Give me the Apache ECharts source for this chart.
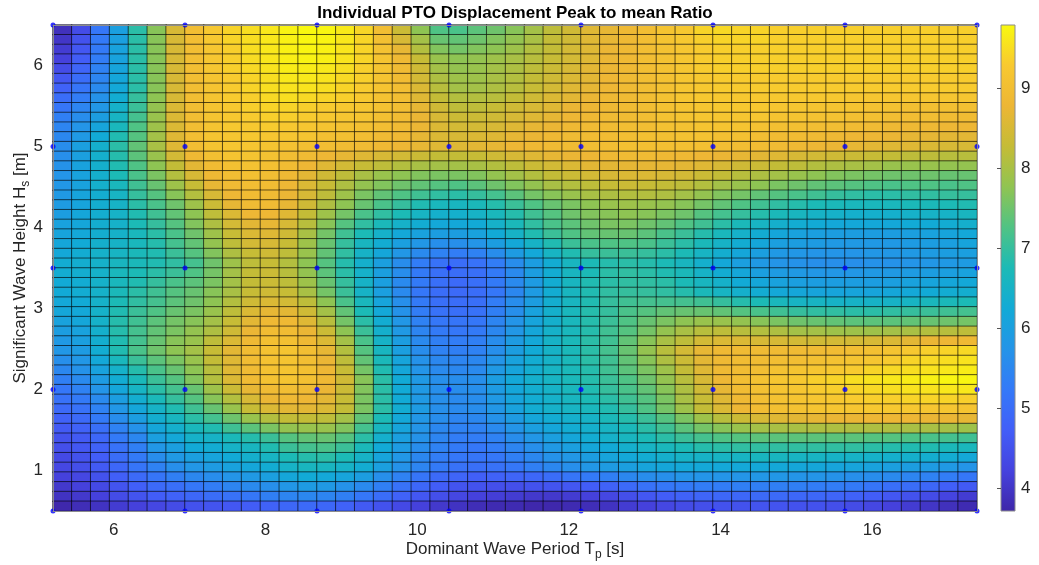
<!DOCTYPE html>
<html>
<head>
<meta charset="utf-8">
<title>Individual PTO Displacement Peak to mean Ratio</title>
<script src="https://cdn.jsdelivr.net/npm/echarts@6/dist/echarts.min.js"></script>
<style>
html,body{margin:0;padding:0;background:#fff;}
#chart{width:1039px;height:565px;}
</style>
</head>
<body>
<div id="chart"></div>
<script>
// sea states that were simulated (blue dots)
var tpSamples = [5.2, 6.94, 8.68, 10.42, 12.16, 13.9, 15.64, 17.38];
var hsSamples = [0.5, 2, 3.5, 5, 6.5];
var tpTicks = [6, 8, 10, 12, 14, 16];
var hsTicks = [1, 2, 3, 4, 5, 6];
var cbTicks = [4, 5, 6, 7, 8, 9];
var cLim = [3.71, 9.79];
// parula, evenly spaced over cLim
var parula = ['#3E26A8','#4542DE','#425EF8','#3479F8','#2494E8','#12AAD6','#1CBAB6',
              '#50C384','#90C452','#C5BC36','#EDB635','#F8C930','#F9FA0E'];

// peak to mean ratio per cell, top row (Hs = 6.5) first, Tp from 5.2 to 17.38
var ratioRows = [
[3.9,4.4,5.2,6.0,6.9,7.7,8.5,9.0,9.25,9.4,9.5,9.6,9.72,9.78,9.75,9.62,9.42,9.0,8.35,7.75,7.25,7.2,7.35,7.5,7.7,7.95,8.2,8.4,8.6,8.7,8.85,9.0,9.15,9.25,9.4,9.45,9.4,9.4,9.35,9.35,9.35,9.35,9.35,9.35,9.35,9.35,9.35,9.35,9.35],
[4.0,4.5,5.25,6.0,6.9,7.7,8.5,9.0,9.25,9.4,9.5,9.6,9.7,9.76,9.73,9.6,9.41,9.05,8.5,7.95,7.45,7.4,7.5,7.65,7.8,8.0,8.25,8.4,8.6,8.7,8.85,9.0,9.15,9.25,9.35,9.4,9.4,9.4,9.35,9.35,9.35,9.35,9.35,9.35,9.35,9.35,9.35,9.35,9.35],
[4.1,4.6,5.25,6.05,6.9,7.7,8.5,9.0,9.2,9.35,9.5,9.6,9.7,9.74,9.7,9.57,9.4,9.1,8.7,8.1,7.65,7.55,7.65,7.75,7.9,8.1,8.25,8.45,8.6,8.75,8.85,9.0,9.1,9.2,9.3,9.35,9.35,9.35,9.35,9.35,9.35,9.35,9.35,9.35,9.35,9.35,9.35,9.35,9.35],
[4.2,4.7,5.3,6.05,6.9,7.7,8.5,9.0,9.2,9.35,9.48,9.58,9.68,9.72,9.68,9.55,9.4,9.15,8.85,8.3,7.85,7.75,7.8,7.9,8.0,8.15,8.3,8.45,8.6,8.75,8.85,9.0,9.1,9.2,9.3,9.35,9.35,9.35,9.35,9.35,9.35,9.35,9.35,9.35,9.35,9.35,9.35,9.35,9.35],
[4.4,4.85,5.4,6.1,6.9,7.7,8.5,9.0,9.2,9.35,9.45,9.55,9.65,9.65,9.6,9.5,9.35,9.15,8.9,8.4,7.95,7.8,7.85,7.95,8.05,8.2,8.35,8.5,8.65,8.75,8.85,9.0,9.1,9.2,9.3,9.35,9.35,9.35,9.35,9.35,9.35,9.35,9.35,9.35,9.35,9.35,9.35,9.35,9.35],
[4.6,5.0,5.45,6.15,6.9,7.7,8.5,9.0,9.15,9.3,9.4,9.5,9.6,9.6,9.55,9.45,9.35,9.15,8.95,8.45,8.05,7.9,7.9,8.0,8.1,8.25,8.4,8.55,8.65,8.8,8.9,9.0,9.1,9.2,9.25,9.3,9.3,9.3,9.3,9.3,9.3,9.3,9.3,9.3,9.3,9.3,9.3,9.3,9.3],
[4.8,5.15,5.55,6.2,6.9,7.7,8.5,9.0,9.15,9.3,9.4,9.5,9.55,9.55,9.5,9.4,9.3,9.15,9.0,8.55,8.15,7.95,7.95,8.05,8.15,8.3,8.45,8.6,8.7,8.8,8.9,9.0,9.1,9.2,9.25,9.3,9.3,9.3,9.3,9.3,9.3,9.3,9.3,9.3,9.3,9.3,9.3,9.3,9.3],
[5.0,5.3,5.7,6.3,7.0,7.75,8.5,9.0,9.15,9.3,9.35,9.45,9.5,9.45,9.4,9.35,9.25,9.1,9.0,8.6,8.25,8.1,8.1,8.15,8.25,8.4,8.55,8.65,8.75,8.85,8.9,9.0,9.1,9.2,9.25,9.25,9.25,9.25,9.25,9.25,9.25,9.25,9.2,9.2,9.2,9.2,9.2,9.2,9.2],
[5.15,5.45,5.8,6.45,7.05,7.8,8.55,9.0,9.15,9.25,9.35,9.4,9.4,9.35,9.3,9.25,9.2,9.1,9.0,8.7,8.4,8.2,8.2,8.3,8.4,8.5,8.6,8.75,8.8,8.85,8.95,9.0,9.1,9.15,9.2,9.25,9.25,9.25,9.2,9.2,9.15,9.15,9.15,9.1,9.1,9.05,9.05,9.05,9.05],
[5.35,5.6,5.95,6.55,7.15,7.85,8.55,9.0,9.15,9.25,9.3,9.35,9.35,9.3,9.25,9.2,9.15,9.05,8.95,8.75,8.5,8.35,8.35,8.4,8.5,8.6,8.7,8.8,8.85,8.9,8.95,9.0,9.1,9.15,9.2,9.2,9.2,9.2,9.15,9.15,9.1,9.1,9.05,9.05,9.0,9.0,9.0,8.95,8.95],
[5.45,5.75,6.1,6.65,7.25,7.9,8.55,9.0,9.15,9.25,9.25,9.3,9.25,9.2,9.15,9.1,9.05,9.0,8.9,8.75,8.55,8.45,8.45,8.5,8.6,8.7,8.75,8.85,8.9,8.95,9.0,9.0,9.1,9.1,9.15,9.15,9.15,9.1,9.05,9.05,9.0,9.0,8.95,8.9,8.85,8.85,8.85,8.8,8.8],
[5.5,5.85,6.25,6.8,7.3,7.95,8.6,9.0,9.15,9.2,9.25,9.2,9.2,9.15,9.05,9.05,9.0,8.9,8.85,8.7,8.55,8.5,8.55,8.6,8.7,8.75,8.85,8.9,8.95,8.95,9.0,9.05,9.05,9.1,9.1,9.05,9.05,9.0,8.95,8.95,8.9,8.85,8.8,8.8,8.75,8.7,8.7,8.65,8.65],
[5.6,6.0,6.4,6.9,7.4,8.0,8.6,9.0,9.15,9.2,9.2,9.15,9.1,9.05,9.0,8.95,8.9,8.85,8.8,8.7,8.6,8.6,8.65,8.7,8.8,8.85,8.9,8.95,9.0,9.0,9.05,9.05,9.05,9.05,9.05,9.0,9.0,8.95,8.9,8.85,8.8,8.75,8.7,8.65,8.6,8.6,8.55,8.5,8.5],
[5.65,6.0,6.4,6.85,7.35,7.85,8.45,8.85,9.05,9.15,9.15,9.1,9.0,8.9,8.8,8.7,8.6,8.5,8.45,8.35,8.25,8.25,8.3,8.4,8.5,8.6,8.7,8.75,8.8,8.85,8.9,8.9,8.85,8.85,8.8,8.75,8.7,8.65,8.6,8.5,8.45,8.4,8.35,8.3,8.25,8.2,8.2,8.15,8.15],
[5.7,6.05,6.4,6.8,7.25,7.75,8.25,8.65,8.95,9.05,9.1,9.05,8.95,8.8,8.6,8.45,8.3,8.2,8.1,8.0,7.95,7.95,8.0,8.1,8.2,8.35,8.45,8.55,8.65,8.65,8.7,8.7,8.7,8.65,8.6,8.5,8.4,8.35,8.25,8.2,8.1,8.05,8.0,7.95,7.85,7.85,7.85,7.8,7.8],
[5.75,6.05,6.4,6.75,7.2,7.6,8.1,8.5,8.85,9.0,9.05,9.0,8.85,8.65,8.4,8.2,8.0,7.85,7.75,7.65,7.6,7.6,7.65,7.8,7.95,8.1,8.25,8.35,8.45,8.5,8.55,8.55,8.5,8.45,8.35,8.25,8.15,8.05,7.95,7.85,7.75,7.65,7.6,7.55,7.5,7.5,7.5,7.45,7.45],
[5.8,6.05,6.4,6.65,7.1,7.45,7.9,8.3,8.7,8.9,9.0,8.95,8.8,8.55,8.3,8.05,7.8,7.65,7.5,7.4,7.3,7.25,7.35,7.5,7.65,7.8,8.0,8.1,8.2,8.3,8.35,8.3,8.25,8.2,8.1,7.95,7.85,7.75,7.6,7.5,7.4,7.35,7.3,7.25,7.2,7.25,7.25,7.2,7.25],
[5.85,6.1,6.35,6.55,7.0,7.3,7.7,8.1,8.5,8.8,8.95,8.9,8.75,8.5,8.2,7.9,7.6,7.4,7.25,7.1,6.95,6.9,7.0,7.15,7.35,7.55,7.7,7.85,8.0,8.05,8.1,8.1,8.05,7.95,7.8,7.65,7.55,7.4,7.3,7.2,7.1,7.0,6.95,6.9,6.9,6.95,6.95,7.0,7.0],
[5.9,6.1,6.35,6.5,6.9,7.2,7.5,7.9,8.35,8.7,8.9,8.9,8.7,8.4,8.05,7.75,7.45,7.2,7.0,6.8,6.65,6.6,6.7,6.85,7.05,7.25,7.45,7.6,7.75,7.85,7.9,7.85,7.8,7.7,7.55,7.4,7.25,7.1,6.95,6.85,6.75,6.7,6.65,6.65,6.65,6.7,6.7,6.75,6.8],
[5.95,6.15,6.35,6.5,6.8,7.1,7.4,7.75,8.2,8.55,8.8,8.8,8.6,8.25,7.9,7.55,7.2,6.95,6.75,6.55,6.4,6.4,6.5,6.65,6.85,7.1,7.3,7.5,7.65,7.7,7.75,7.7,7.6,7.5,7.3,7.15,7.0,6.85,6.7,6.6,6.5,6.45,6.4,6.4,6.4,6.45,6.5,6.5,6.6],
[6.05,6.15,6.35,6.45,6.75,7.0,7.3,7.65,8.05,8.45,8.65,8.7,8.5,8.15,7.7,7.3,6.95,6.7,6.45,6.3,6.2,6.2,6.25,6.45,6.7,6.95,7.2,7.35,7.5,7.6,7.6,7.5,7.4,7.25,7.1,6.9,6.7,6.55,6.4,6.3,6.25,6.2,6.2,6.2,6.2,6.25,6.25,6.3,6.4],
[6.1,6.2,6.35,6.45,6.65,6.9,7.2,7.5,7.9,8.3,8.55,8.6,8.4,8.0,7.55,7.1,6.75,6.45,6.2,6.05,5.95,5.95,6.05,6.25,6.5,6.8,7.05,7.25,7.4,7.45,7.45,7.35,7.2,7.05,6.85,6.65,6.45,6.3,6.15,6.05,6.0,5.95,5.95,5.95,5.95,6.0,6.05,6.1,6.2],
[6.15,6.25,6.4,6.5,6.65,6.85,7.15,7.4,7.8,8.2,8.45,8.5,8.3,7.9,7.45,7.0,6.6,6.3,6.0,5.8,5.65,5.65,5.75,5.95,6.2,6.5,6.8,7.05,7.2,7.25,7.25,7.2,7.05,6.9,6.7,6.5,6.3,6.15,6.0,5.95,5.9,5.85,5.85,5.85,5.85,5.9,5.95,6.0,6.1],
[6.2,6.3,6.45,6.55,6.7,6.8,7.05,7.3,7.65,8.05,8.3,8.4,8.2,7.85,7.4,6.95,6.5,6.15,5.8,5.55,5.4,5.3,5.4,5.6,5.9,6.2,6.55,6.8,7.0,7.05,7.05,7.0,6.9,6.75,6.55,6.35,6.15,6.0,5.85,5.8,5.75,5.75,5.75,5.8,5.8,5.85,5.9,5.95,6.0],
[6.3,6.35,6.45,6.6,6.7,6.8,6.95,7.15,7.5,7.9,8.2,8.3,8.1,7.75,7.3,6.85,6.4,6.0,5.6,5.3,5.1,5.0,5.1,5.3,5.6,5.95,6.3,6.6,6.75,6.85,6.9,6.85,6.75,6.6,6.4,6.2,6.0,5.85,5.75,5.7,5.65,5.65,5.65,5.7,5.7,5.75,5.8,5.85,5.9],
[6.3,6.35,6.45,6.65,6.75,6.9,7.05,7.25,7.55,7.95,8.25,8.35,8.15,7.8,7.35,6.9,6.45,6.0,5.6,5.25,5.05,5.0,5.05,5.25,5.55,5.95,6.3,6.6,6.75,6.9,6.95,6.9,6.8,6.7,6.5,6.3,6.15,6.0,5.9,5.85,5.8,5.8,5.8,5.85,5.85,5.9,5.95,6.0,6.05],
[6.25,6.3,6.45,6.65,6.8,7.0,7.2,7.35,7.6,7.95,8.25,8.35,8.2,7.9,7.45,7.0,6.5,6.0,5.55,5.25,5.05,4.95,5.05,5.25,5.55,5.9,6.3,6.6,6.8,6.9,6.95,6.95,6.9,6.75,6.6,6.45,6.25,6.15,6.05,6.0,5.95,5.95,5.95,5.95,6.0,6.05,6.1,6.15,6.2],
[6.25,6.3,6.45,6.7,6.9,7.1,7.3,7.45,7.7,8.0,8.3,8.4,8.3,8.0,7.55,7.05,6.5,6.0,5.55,5.2,5.0,4.95,5.0,5.2,5.5,5.9,6.3,6.6,6.8,6.95,7.0,7.0,6.95,6.85,6.7,6.55,6.4,6.3,6.2,6.15,6.1,6.1,6.1,6.1,6.15,6.2,6.25,6.3,6.35],
[6.2,6.25,6.45,6.75,6.95,7.15,7.35,7.5,7.75,8.1,8.4,8.55,8.45,8.2,7.75,7.2,6.65,6.1,5.65,5.25,5.05,5.0,5.05,5.3,5.6,5.95,6.35,6.6,6.8,7.0,7.1,7.15,7.15,7.15,7.1,7.0,6.85,6.75,6.65,6.55,6.55,6.5,6.5,6.5,6.5,6.55,6.65,6.7,6.75],
[6.15,6.2,6.45,6.8,7.05,7.25,7.45,7.6,7.85,8.2,8.55,8.7,8.65,8.4,7.95,7.4,6.75,6.2,5.7,5.3,5.1,5.05,5.1,5.35,5.65,6.05,6.4,6.65,6.85,7.0,7.2,7.3,7.4,7.45,7.45,7.4,7.3,7.2,7.1,7.0,6.95,6.95,6.9,6.9,6.95,7.0,7.05,7.1,7.15],
[6.05,6.15,6.45,6.85,7.1,7.35,7.55,7.7,7.95,8.3,8.65,8.85,8.85,8.6,8.15,7.55,6.9,6.3,5.8,5.4,5.2,5.15,5.2,5.45,5.75,6.1,6.4,6.65,6.85,7.05,7.25,7.45,7.6,7.75,7.85,7.85,7.8,7.7,7.6,7.5,7.45,7.4,7.35,7.35,7.35,7.4,7.45,7.5,7.55],
[5.95,6.05,6.4,6.85,7.15,7.4,7.6,7.8,8.05,8.4,8.75,8.95,8.95,8.75,8.35,7.75,7.05,6.4,5.85,5.45,5.25,5.2,5.25,5.5,5.8,6.15,6.45,6.65,6.85,7.1,7.3,7.55,7.8,8.0,8.15,8.2,8.15,8.1,8.05,7.95,7.95,7.9,7.9,7.9,7.95,8.0,8.1,8.15,8.2],
[5.85,6.0,6.35,6.8,7.15,7.45,7.7,7.85,8.2,8.55,8.85,9.05,9.05,8.85,8.55,7.95,7.2,6.5,5.95,5.55,5.35,5.3,5.35,5.6,5.9,6.2,6.5,6.7,6.9,7.1,7.4,7.7,8.0,8.2,8.45,8.55,8.55,8.5,8.5,8.45,8.4,8.45,8.45,8.5,8.55,8.65,8.75,8.8,8.85],
[5.8,5.9,6.3,6.8,7.2,7.5,7.75,7.95,8.3,8.65,8.95,9.1,9.15,9.0,8.7,8.1,7.3,6.6,6.0,5.6,5.4,5.35,5.4,5.65,5.95,6.25,6.5,6.7,6.9,7.15,7.45,7.8,8.15,8.45,8.7,8.85,8.9,8.9,8.9,8.9,8.9,8.95,9.0,9.05,9.15,9.25,9.35,9.4,9.45],
[5.65,5.8,6.2,6.65,7.05,7.35,7.6,7.85,8.25,8.6,8.95,9.1,9.15,9.0,8.75,8.2,7.4,6.7,6.1,5.7,5.5,5.45,5.5,5.75,6.05,6.3,6.5,6.7,6.9,7.1,7.4,7.7,8.05,8.35,8.65,8.85,8.95,8.95,9.0,9.0,9.05,9.1,9.15,9.2,9.3,9.4,9.45,9.5,9.55],
[5.5,5.7,6.05,6.45,6.85,7.2,7.45,7.75,8.15,8.6,8.9,9.1,9.15,9.05,8.8,8.3,7.55,6.8,6.15,5.75,5.55,5.5,5.55,5.85,6.1,6.35,6.55,6.7,6.85,7.1,7.35,7.6,7.9,8.25,8.6,8.85,8.95,9.0,9.1,9.15,9.2,9.25,9.3,9.4,9.45,9.5,9.55,9.6,9.65],
[5.35,5.55,5.9,6.3,6.7,7.05,7.3,7.65,8.1,8.55,8.9,9.1,9.15,9.05,8.85,8.4,7.7,6.9,6.25,5.85,5.65,5.6,5.65,5.95,6.2,6.4,6.55,6.7,6.85,7.05,7.25,7.5,7.8,8.15,8.5,8.8,9.0,9.1,9.2,9.25,9.35,9.4,9.5,9.55,9.6,9.65,9.7,9.75,9.75],
[5.2,5.4,5.75,6.15,6.55,6.9,7.15,7.45,7.9,8.35,8.7,8.9,9.0,8.9,8.75,8.35,7.65,6.9,6.25,5.85,5.65,5.6,5.65,5.9,6.15,6.35,6.5,6.65,6.8,7.0,7.2,7.4,7.7,8.05,8.4,8.7,8.95,9.05,9.15,9.2,9.3,9.35,9.4,9.45,9.5,9.55,9.55,9.6,9.6],
[5.1,5.25,5.55,5.95,6.35,6.7,7.0,7.3,7.7,8.1,8.5,8.75,8.85,8.8,8.65,8.3,7.6,6.9,6.25,5.85,5.65,5.55,5.6,5.85,6.1,6.3,6.45,6.6,6.75,6.9,7.1,7.3,7.6,8.0,8.3,8.6,8.85,9.0,9.1,9.15,9.2,9.25,9.3,9.35,9.35,9.4,9.4,9.4,9.35],
[4.95,5.1,5.4,5.8,6.15,6.5,6.8,7.1,7.45,7.85,8.3,8.55,8.65,8.65,8.55,8.25,7.6,6.9,6.3,5.9,5.65,5.55,5.6,5.8,6.05,6.3,6.45,6.55,6.65,6.8,7.0,7.25,7.55,7.9,8.25,8.55,8.8,8.95,9.05,9.1,9.15,9.2,9.2,9.25,9.25,9.25,9.2,9.2,9.15],
[4.8,4.95,5.25,5.6,5.95,6.35,6.6,6.9,7.15,7.5,7.85,8.1,8.25,8.25,8.2,7.95,7.4,6.75,6.2,5.8,5.6,5.45,5.5,5.7,5.9,6.15,6.3,6.4,6.5,6.7,6.85,7.05,7.3,7.6,7.9,8.15,8.35,8.5,8.6,8.65,8.7,8.75,8.75,8.8,8.8,8.8,8.75,8.75,8.7],
[4.65,4.8,5.05,5.4,5.7,6.15,6.4,6.65,6.8,7.1,7.35,7.6,7.8,7.85,7.85,7.65,7.15,6.6,6.1,5.75,5.5,5.4,5.4,5.55,5.75,6.0,6.15,6.3,6.4,6.55,6.7,6.9,7.1,7.35,7.55,7.7,7.85,7.95,8.0,8.0,8.05,8.05,8.05,8.05,8.05,8.0,8.0,7.95,7.9],
[4.5,4.65,4.9,5.25,5.5,6.0,6.2,6.45,6.5,6.7,6.85,7.05,7.3,7.4,7.45,7.3,6.9,6.4,6.0,5.7,5.45,5.3,5.3,5.4,5.6,5.8,6.0,6.15,6.3,6.45,6.6,6.75,6.9,7.05,7.15,7.25,7.3,7.35,7.35,7.35,7.35,7.35,7.35,7.3,7.3,7.25,7.2,7.15,7.1],
[4.45,4.6,4.8,5.1,5.35,5.8,6.0,6.25,6.3,6.5,6.6,6.8,7.05,7.15,7.2,7.05,6.7,6.25,5.9,5.6,5.4,5.25,5.2,5.3,5.45,5.65,5.85,6.0,6.15,6.25,6.4,6.55,6.65,6.75,6.85,6.9,6.95,6.95,6.95,6.95,6.95,6.95,6.95,6.9,6.85,6.8,6.8,6.7,6.65],
[4.35,4.5,4.7,5.0,5.25,5.6,5.85,6.0,6.1,6.25,6.4,6.55,6.75,6.85,6.9,6.75,6.5,6.1,5.8,5.5,5.3,5.2,5.15,5.2,5.35,5.5,5.7,5.8,5.95,6.1,6.2,6.3,6.4,6.5,6.5,6.55,6.55,6.6,6.6,6.55,6.55,6.5,6.5,6.45,6.4,6.4,6.35,6.3,6.2],
[4.3,4.45,4.65,4.9,5.15,5.4,5.65,5.8,5.9,6.05,6.15,6.3,6.5,6.6,6.6,6.5,6.3,6.0,5.7,5.45,5.25,5.1,5.05,5.1,5.2,5.35,5.5,5.65,5.8,5.9,6.0,6.1,6.15,6.2,6.2,6.2,6.2,6.2,6.2,6.15,6.15,6.1,6.1,6.05,6.0,5.95,5.9,5.85,5.75],
[4.2,4.3,4.5,4.75,4.95,5.15,5.35,5.5,5.6,5.75,5.85,6.0,6.15,6.25,6.2,6.1,5.95,5.65,5.4,5.15,4.95,4.85,4.75,4.8,4.85,4.9,5.0,5.15,5.25,5.35,5.5,5.6,5.65,5.75,5.75,5.75,5.75,5.8,5.8,5.75,5.75,5.7,5.65,5.6,5.55,5.45,5.4,5.3,5.2],
[4.05,4.2,4.35,4.55,4.75,4.95,5.05,5.2,5.3,5.45,5.55,5.65,5.8,5.9,5.85,5.7,5.55,5.35,5.1,4.9,4.7,4.55,4.5,4.45,4.45,4.5,4.55,4.6,4.7,4.8,4.95,5.1,5.2,5.25,5.3,5.3,5.35,5.35,5.35,5.35,5.3,5.3,5.25,5.15,5.05,5.0,4.9,4.75,4.65],
[3.95,4.05,4.2,4.4,4.55,4.7,4.8,4.9,5.0,5.1,5.2,5.35,5.45,5.5,5.45,5.35,5.2,5.0,4.8,4.6,4.45,4.3,4.2,4.15,4.1,4.05,4.05,4.1,4.2,4.3,4.45,4.6,4.7,4.8,4.85,4.9,4.9,4.95,4.95,4.9,4.9,4.85,4.8,4.7,4.6,4.5,4.4,4.25,4.1],
[3.75,3.85,3.95,4.1,4.2,4.3,4.4,4.5,4.55,4.6,4.7,4.8,4.9,4.95,4.9,4.8,4.65,4.5,4.35,4.2,4.05,3.95,3.85,3.8,3.8,3.75,3.75,3.8,3.85,3.95,4.1,4.2,4.3,4.4,4.45,4.5,4.5,4.55,4.55,4.5,4.5,4.45,4.4,4.3,4.2,4.1,4.0,3.9,3.8]
];

var nRows = ratioRows.length;
var nCols = ratioRows[0].length;
var colIdx = [], rowIdx = [];
for (var i = 0; i < nCols; i++) colIdx.push(String(i));
for (var j = 0; j < nRows; j++) rowIdx.push(String(j));

// heatmap cells: [column, row counted from bottom, value]
var cells = [];
for (var t = 0; t < nRows; t++) {
    for (var c = 0; c < ratioRows[t].length; c++) {
        cells.push([c, nRows - 1 - t, ratioRows[t][c]]);
    }
}
var dots = [];
tpSamples.forEach(function (tp) {
    hsSamples.forEach(function (hs) { dots.push([tp, hs]); });
});

var font = "'Liberation Sans', Arial, sans-serif";
var axisGray = '#8c8c8c';
var labelColor = '#262626';

var myChart = echarts.init(document.getElementById('chart'), null, {renderer: 'canvas'});
var option = {
    animation: false,
    backgroundColor: '#ffffff',
    grid: [
        {left: 53, top: 25, width: 924, height: 486},
        {left: 1001, top: 25, width: 14, height: 486}
    ],
    xAxis: [
        {type: 'category', gridIndex: 0, data: colIdx, show: false},
        {type: 'value', gridIndex: 0, min: 5.2, max: 17.38, position: 'bottom', z: 10,
            axisLine: {show: true, lineStyle: {color: axisGray, width: 1}},
            axisTick: {show: false}, splitLine: {show: false},
            axisLabel: {customValues: tpTicks, color: labelColor, fontSize: 17, fontFamily: font, margin: 11}},
        {type: 'value', gridIndex: 0, min: 5.2, max: 17.38, position: 'top', z: 10,
            axisLine: {show: true, lineStyle: {color: axisGray, width: 1}},
            axisTick: {show: false}, axisLabel: {show: false}, splitLine: {show: false}},
        {type: 'value', gridIndex: 1, min: 0, max: 1, show: false}
    ],
    yAxis: [
        {type: 'category', gridIndex: 0, data: rowIdx, show: false},
        {type: 'value', gridIndex: 0, min: 0.5, max: 6.5, position: 'left', z: 10,
            axisLine: {show: true, lineStyle: {color: axisGray, width: 1}},
            axisTick: {show: false}, splitLine: {show: false},
            axisLabel: {customValues: hsTicks, color: labelColor, fontSize: 17, fontFamily: font, margin: 10}},
        {type: 'value', gridIndex: 0, min: 0.5, max: 6.5, position: 'right', z: 10,
            axisLine: {show: true, lineStyle: {color: axisGray, width: 1}},
            axisTick: {show: false}, axisLabel: {show: false}, splitLine: {show: false}},
        {type: 'value', gridIndex: 1, min: cLim[0], max: cLim[1], position: 'right', z: 10,
            axisLine: {show: false},
            axisTick: {show: true, inside: true, length: 4, customValues: cbTicks, lineStyle: {color: '#555'}},
            splitLine: {show: false},
            axisLabel: {customValues: cbTicks, color: labelColor, fontSize: 17, fontFamily: font, margin: 6}}
    ],
    visualMap: [{
        type: 'continuous', show: false, min: cLim[0], max: cLim[1],
        dimension: 2, seriesIndex: 0, inRange: {color: parula}
    }],
    series: [
        {
            type: 'heatmap', xAxisIndex: 0, yAxisIndex: 0, data: cells,
            progressive: 0, silent: true,
            itemStyle: {borderColor: 'rgba(0,0,0,0.6)', borderWidth: 1}
        },
        {
            type: 'scatter', xAxisIndex: 1, yAxisIndex: 1, data: dots,
            symbolSize: 5, itemStyle: {color: '#0000ff'}, z: 5, silent: true, clip: false
        },
        {
            // colorbar
            type: 'custom', xAxisIndex: 3, yAxisIndex: 3, data: [[0]], silent: true,
            renderItem: function (params, api) {
                var p0 = api.coord([0, cLim[0]]);
                var p1 = api.coord([1, cLim[1]]);
                var stops = parula.map(function (col, k) {
                    return {offset: k / (parula.length - 1), color: col};
                });
                return {
                    type: 'rect',
                    shape: {x: p0[0], y: p1[1], width: p1[0] - p0[0], height: p0[1] - p1[1]},
                    style: {fill: new echarts.graphic.LinearGradient(0, 1, 0, 0, stops), stroke: axisGray, lineWidth: 1}
                };
            }
        }
    ],
    graphic: [
        {type: 'text', x: 515, y: 13, z: 20,
            style: {text: 'Individual PTO Displacement Peak to mean Ratio', fill: '#000',
                fontSize: 17, fontWeight: 'bold', fontFamily: font, align: 'center', verticalAlign: 'middle'}},
        {type: 'text', x: 515, y: 549, z: 20,
            style: {text: 'Dominant Wave Period T{sub|p} [s]', fill: labelColor, fontSize: 17, fontFamily: font,
                align: 'center', verticalAlign: 'middle',
                rich: {sub: {fontSize: 12, fontFamily: font, fill: labelColor, padding: [12, 0, 0, 0]}}}},
        {type: 'text', x: 20, y: 268, z: 20, rotation: Math.PI / 2,
            style: {text: 'Significant Wave Height H{sub|s} [m]', fill: labelColor, fontSize: 17, fontFamily: font,
                align: 'center', verticalAlign: 'middle',
                rich: {sub: {fontSize: 12, fontFamily: font, fill: labelColor, padding: [12, 0, 0, 0]}}}}
    ]
};
myChart.setOption(option);
</script>
</body>
</html>
